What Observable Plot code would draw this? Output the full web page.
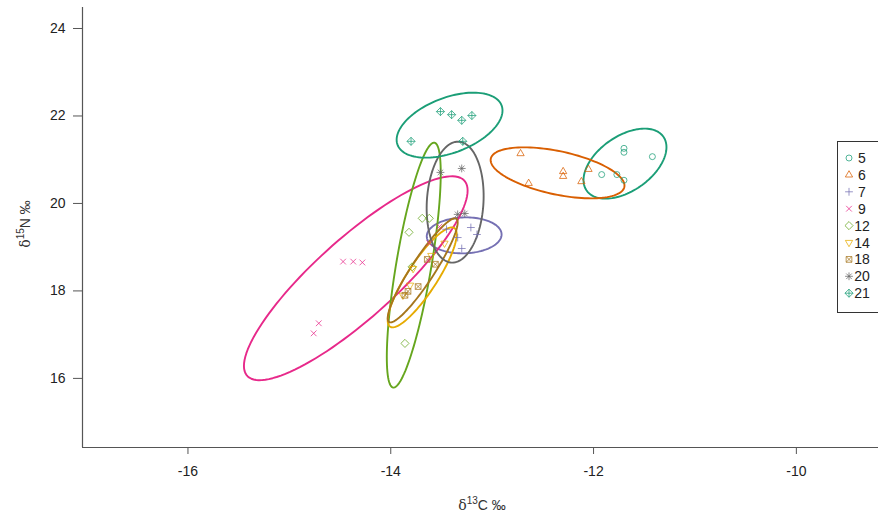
<!DOCTYPE html>
<html><head><meta charset="utf-8">
<script src="https://cdn.jsdelivr.net/npm/d3@7"></script>
<script src="https://cdn.jsdelivr.net/npm/@observablehq/plot@0.6"></script>
<style>body{margin:0;background:#fff;} #chart{width:878px;height:520px;}</style>
</head><body><div id="chart"></div>
<script>
// ---- data ----
const groups = ["5","6","7","9","12","14","18","20","21"];
const colors = ["#1B9E77","#D95F02","#7570B3","#E7298A","#66A61E","#E6AB02","#A6761D","#666666","#1B9E77"];

const pointGroup = [
  "5","5","5","5","5","5",
  "6","6","6","6","6","6",
  "7","7","7","7","7",
  "9","9","9","9","9","9","9",
  "12","12","12","12","12",
  "14","14","14","14","14",
  "18","18","18","18","18",
  "20","20","20","20",
  "21","21","21","21","21","21"
];
const pointX = [
  -11.92,-11.77,-11.70,-11.70,-11.70,-11.42,
  -12.72,-12.64,-12.30,-12.30,-12.12,-12.05,
  -13.21,-13.15,-13.34,-13.30,-13.45,
  -14.47,-14.37,-14.28,-14.71,-14.76,-13.52,-13.62,
  -13.82,-13.69,-13.62,-13.86,-13.79,
  -13.47,-13.60,-13.78,-13.88,-13.81,
  -13.64,-13.56,-13.73,-13.83,-13.86,
  -13.51,-13.30,-13.34,-13.27,
  -13.51,-13.40,-13.30,-13.20,-13.80,-13.29
];
const pointY = [
  20.66,20.66,20.53,21.26,21.17,21.07,
  21.14,20.46,20.73,20.62,20.50,20.78,
  19.45,19.29,19.22,18.97,19.41,
  18.67,18.67,18.65,17.26,17.03,19.47,19.09,
  19.34,19.66,19.66,16.80,18.55,
  19.09,18.81,18.51,17.90,18.13,
  18.72,18.61,18.10,17.99,17.90,
  20.71,20.80,19.75,19.77,
  22.10,22.03,21.90,22.01,21.42,21.42
];

// ellipse parameters per group: centre, half extents along x and y, correlation
const ellGroup = ["5","6","7","9","12","14","18","20","21"];
const ellCx = [-11.69,-12.355,-13.276,-14.345,-13.773,-13.69,-13.685,-13.365,-13.42];
const ellCy = [20.91,20.70,19.27,18.29,18.59,18.31,18.47,20.03,21.79];
const ellSx = [0.409,0.660,0.369,1.103,0.266,0.340,0.345,0.281,0.522];
const ellSy = [0.80,0.583,0.411,2.331,2.80,1.143,1.189,1.383,0.743];
const ellR  = [0.47,-0.5,0.05,0.86,0.75,0.86,0.92,0.10,0.45];

const xTicks = [-16,-14,-12,-10];
const yTicks = [16,18,20,22,24];
const xDomain = [-17.04,-9.19];
const yDomain = [14.42,24.48];
const xTitleParts = ["δ", "13", "C ‰"];
const yTitleParts = ["δ", "15", "N ‰"];

// ---- symbols (R pch 1..9) ----
function sym(f){ return {draw(c,size){ f(c, Math.sqrt(size/Math.PI)); }}; }
const plusPath = (c,a)=>{c.moveTo(-a,0);c.lineTo(a,0);c.moveTo(0,-a);c.lineTo(0,a);};
const timesPath = (c,a)=>{c.moveTo(-a,-a);c.lineTo(a,a);c.moveTo(-a,a);c.lineTo(a,-a);};
const symbols = [
  sym((c,r)=>{c.moveTo(r,0);c.arc(0,0,r,0,2*Math.PI);}),
  sym((c,r)=>{const a=r*1.4;c.moveTo(0,-a);c.lineTo(a*0.866,a*0.5);c.lineTo(-a*0.866,a*0.5);c.closePath();}),
  sym((c,r)=>plusPath(c,r*1.3)),
  sym((c,r)=>timesPath(c,r*0.95)),
  sym((c,r)=>{const a=r*1.35;c.moveTo(0,-a);c.lineTo(a,0);c.lineTo(0,a);c.lineTo(-a,0);c.closePath();}),
  sym((c,r)=>{const a=r*1.4;c.moveTo(0,a);c.lineTo(a*0.866,-a*0.5);c.lineTo(-a*0.866,-a*0.5);c.closePath();}),
  sym((c,r)=>{const a=r*0.95;c.rect(-a,-a,2*a,2*a);timesPath(c,a);}),
  sym((c,r)=>{plusPath(c,r*1.3);timesPath(c,r*0.92);}),
  sym((c,r)=>{const a=r*1.35;c.moveTo(0,-a);c.lineTo(a,0);c.lineTo(0,a);c.lineTo(-a,0);c.closePath();plusPath(c,a);})
];

// ---- build tables ----
const points = pointGroup.map((g,i)=>({group:g, x:pointX[i], y:pointY[i]}));
const ellipses = [];
ellGroup.forEach((g,k)=>{
  const q = Math.sqrt(1-ellR[k]*ellR[k]);
  for (let i=0;i<=120;i++){
    const t = 2*Math.PI*i/120;
    ellipses.push({group:g,
      x: ellCx[k] + ellSx[k]*Math.cos(t),
      y: ellCy[k] + ellSy[k]*(ellR[k]*Math.cos(t) + q*Math.sin(t))});
  }
});

const font = "'Liberation Sans', Arial, sans-serif";
const plot = Plot.plot({
  width: 878, height: 520,
  marginLeft: 82, marginRight: 0, marginTop: 7, marginBottom: 73,
  style: {fontFamily: font, fontSize: "14px", color: "#222", background: "#fff"},
  x: {domain: xDomain},
  y: {domain: yDomain},
  color: {domain: groups, range: colors},
  symbol: {domain: groups, range: symbols},
  marks: [
    Plot.ruleX([xDomain[0]], {stroke: "#555", strokeWidth: 1.2}),
    Plot.ruleY([yDomain[0]], {stroke: "#555", strokeWidth: 1.2}),
    Plot.axisX({ticks: xTicks, tickFormat: d => String(d), tickSize: 7, tickPadding: 12, label: null, stroke: "#555", fontSize: 14}),
    Plot.axisY({ticks: yTicks, tickFormat: d => String(d), tickSize: 9, tickPadding: 8, label: null, stroke: "#555", fontSize: 14}),
    Plot.line(ellipses, {x: "x", y: "y", z: "group", stroke: "group", strokeWidth: 1.9, curve: "linear"}),
    Plot.dot(points, {x: "x", y: "y", symbol: "group", stroke: "group", fill: "none", r: 3, strokeWidth: 1, strokeOpacity: 0.75})
  ]
});
document.getElementById("chart").appendChild(plot);

// titles and legend
const svg = d3.select(plot);
function titleText(sel, parts){
  sel.style("font-family", font).style("font-size", "14px").attr("fill", "#333");
  sel.append("tspan").style("font-family", "'DejaVu Serif', serif").text(parts[0]);
  sel.append("tspan").attr("dy", "-6").style("font-size", "10px").text(parts[1]);
  sel.append("tspan").attr("dy", "6").text(parts[2]);
}
titleText(svg.append("text").attr("x", 482).attr("y", 510).attr("text-anchor", "middle"), xTitleParts);
titleText(svg.append("text").attr("transform", "translate(30,224) rotate(-90)").attr("text-anchor", "middle"), yTitleParts);

const lg = svg.append("g");
lg.append("rect").attr("x", 837.5).attr("y", 141.5).attr("width", 60).attr("height", 171)
  .attr("fill", "#fff").attr("stroke", "#333").attr("stroke-width", 1);
groups.forEach((g,i)=>{
  const yy = 158 + i*16.9;
  lg.append("path").attr("transform", `translate(849,${yy})`)
    .attr("d", d3.symbol(symbols[i], 9*Math.PI)())
    .attr("fill", "none").attr("stroke", colors[i]).attr("stroke-opacity", 0.75).attr("stroke-width", 1);
  lg.append("text").attr("x", 862).attr("y", yy).attr("dy", "0.36em")
    .style("font-family", font).style("font-size", "14px").attr("fill", "#222").text(g);
});
</script>
</body></html>
